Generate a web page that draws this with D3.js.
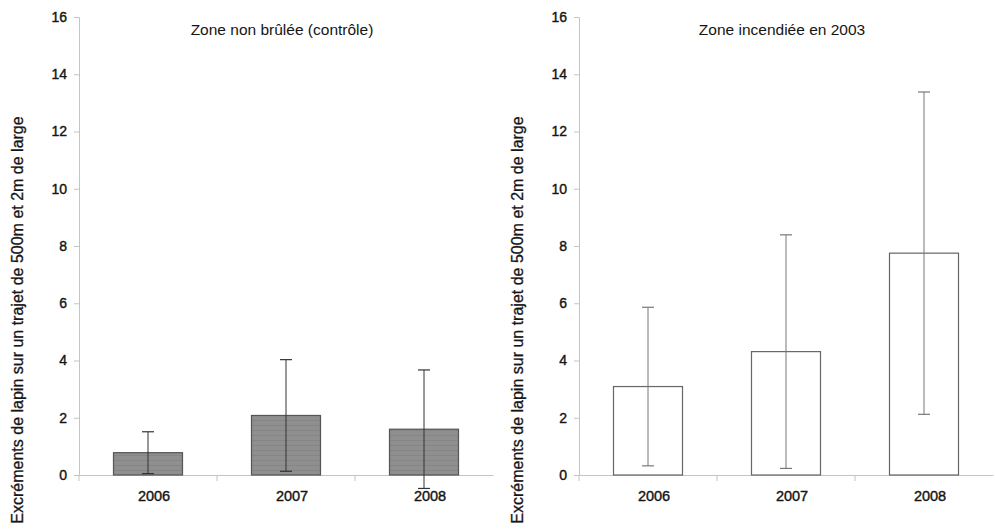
<!DOCTYPE html>
<html>
<head>
<meta charset="utf-8">
<style>
  body { margin: 0; background: #fff; }
  svg text { font-family: "Liberation Sans", Arial, sans-serif; fill: #151515; }
</style>
</head>
<body>
<div id="chart"></div>
<script src="https://d3js.org/d3.v7.min.js"></script>
<script>
// data (means and standard deviations)
var years = ["2006", "2007", "2008"];
var controlMean = [0.78, 2.08, 1.60];
var controlSd = [0.73, 1.95, 2.07];
var burnedMean = [3.09, 4.31, 7.75];
var burnedSd = [2.77, 4.08, 5.63];
var yTicks = [0, 2, 4, 6, 8, 10, 12, 14, 16];
var yLabel = "Excréments de lapin sur un trajet de 500m et 2m de large";

var width = 995, height = 530;

var svg = d3.select("#chart")
  .append("svg")
  .attr("width", width)
  .attr("height", height);

// faint horizontal scan lines on the grey bars
var pat = svg.append("defs").append("pattern")
  .attr("id", "grey")
  .attr("patternUnits", "userSpaceOnUse")
  .attr("width", 6)
  .attr("height", 5);
pat.append("rect").attr("width", 6).attr("height", 5).attr("fill", "#8f8f8f");
pat.append("line")
  .attr("x1", 0).attr("x2", 6).attr("y1", 0.5).attr("y2", 0.5)
  .attr("stroke", "#858585").attr("stroke-width", 1);

// draws one panel
function panel(left, title, means, sds, style) {
  var x = d3.scaleBand().domain(years).range([left + 79, left + 493])
    .paddingInner(0.5).paddingOuter(0.25);
  var y = d3.scaleLinear().domain([0, 16]).range([475, 17]);
  var g = svg.append("g");

  // y axis
  var ya = g.append("g")
    .attr("transform", "translate(" + (left + 79) + ",0)")
    .call(d3.axisLeft(y).tickValues(yTicks).tickSize(5).tickPadding(7));
  ya.select(".domain").attr("stroke", "#c4c4c4");
  ya.selectAll(".tick line").attr("stroke", "#c4c4c4");
  ya.selectAll("text")
    .attr("font-size", 14)
    .attr("stroke", "#151515")
    .attr("stroke-width", 0.4)
    .attr("fill", "#151515");

  // x axis
  var xa = g.append("g")
    .attr("transform", "translate(0,475)")
    .call(d3.axisBottom(x).tickSize(0).tickPadding(16));
  xa.select(".domain").attr("stroke", "#c4c4c4");
  xa.selectAll("text")
    .attr("dx", 6)
    .attr("font-size", 14.5)
    .attr("stroke", "#151515")
    .attr("stroke-width", 0.4)
    .attr("fill", "#151515");

  // tick marks between categories
  var step = x.step();
  g.selectAll(".sep")
    .data(years)
    .enter()
    .append("line")
    .attr("x1", function(d) { return x(d) + x.bandwidth() / 2 - step / 2; })
    .attr("x2", function(d) { return x(d) + x.bandwidth() / 2 - step / 2; })
    .attr("y1", 475)
    .attr("y2", 481)
    .attr("stroke", "#c4c4c4");

  // bars
  g.selectAll(".bar")
    .data(years)
    .enter()
    .append("rect")
    .attr("x", function(d) { return x(d); })
    .attr("width", x.bandwidth())
    .attr("y", function(d, i) { return y(means[i]); })
    .attr("height", function(d, i) { return y(0) - y(means[i]); })
    .attr("fill", style.fill)
    .attr("stroke", style.stroke)
    .attr("stroke-width", 1.2);

  // error bars
  var err = g.selectAll(".err")
    .data(years)
    .enter()
    .append("g")
    .attr("transform", function(d) { return "translate(" + (x(d) + x.bandwidth() / 2) + ",0)"; });
  err.append("line")
    .attr("y1", function(d, i) { return y(means[i] + sds[i]); })
    .attr("y2", function(d, i) { return y(means[i] - sds[i]); })
    .attr("stroke", style.err)
    .attr("stroke-width", 1);
  err.append("line")
    .attr("x1", -6).attr("x2", 6)
    .attr("y1", function(d, i) { return y(means[i] + sds[i]); })
    .attr("y2", function(d, i) { return y(means[i] + sds[i]); })
    .attr("stroke", style.err)
    .attr("stroke-width", 1.2);
  err.append("line")
    .attr("x1", -6).attr("x2", 6)
    .attr("y1", function(d, i) { return y(means[i] - sds[i]); })
    .attr("y2", function(d, i) { return y(means[i] - sds[i]); })
    .attr("stroke", style.err)
    .attr("stroke-width", 1.2);

  // title
  g.append("text")
    .attr("x", left + 282)
    .attr("y", 35)
    .attr("text-anchor", "middle")
    .attr("font-size", 15.5)
    .text(title);

  // y label
  g.append("text")
    .attr("transform", "translate(" + (left + 23) + ",320) rotate(-90)")
    .attr("text-anchor", "middle")
    .attr("font-size", 16)
    .attr("stroke", "#151515")
    .attr("stroke-width", 0.3)
    .text(yLabel);
}

panel(0, "Zone non brûlée (contrôle)", controlMean, controlSd,
  { fill: "url(#grey)", stroke: "#555", err: "#333" });
panel(500, "Zone incendiée en 2003", burnedMean, burnedSd,
  { fill: "#ffffff", stroke: "#666", err: "#777" });
</script>
</body>
</html>
